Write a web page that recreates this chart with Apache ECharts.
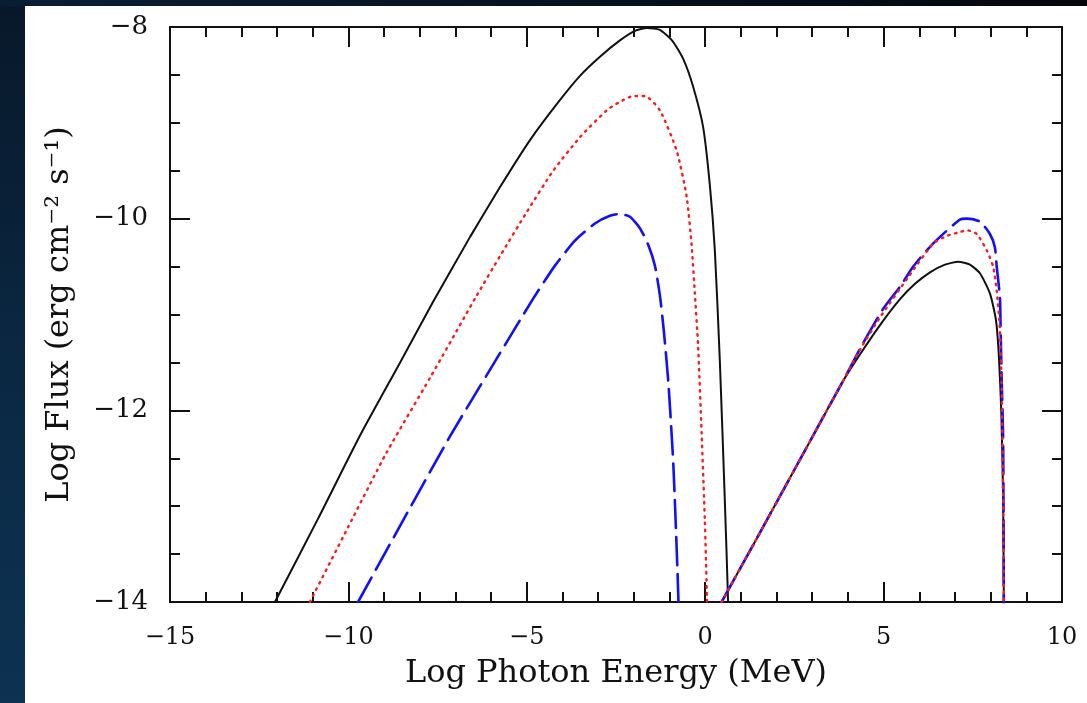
<!DOCTYPE html>
<html>
<head>
<meta charset="utf-8">
<script src="https://cdn.jsdelivr.net/npm/echarts@6/dist/echarts.min.js"></script>
<style>
  html, body { margin: 0; padding: 0; }
  body { width: 1087px; height: 703px; overflow: hidden; position: relative;
         background: linear-gradient(to bottom, #08182a 0%, #0b2a46 60%, #0d3252 100%); }
  #topstrip { position: absolute; left: 0; top: 0; width: 1087px; height: 6px;
              background: linear-gradient(to right, #0a1e33 0%, #06101c 60%, #03070c 100%); }
  #chart { position: absolute; left: 25px; top: 6px; width: 1062px; height: 697px; background: #ffffff; }
</style>
</head>
<body>
<div id="topstrip"></div>
<div id="chart"></div>
<script>
// ---- axis settings / tick labels ----
const xTicks = [-15, -10, -5, 0, 5, 10];
const yTicks = [-14, -12, -10, -8];
const xTitle = 'Log Photon Energy (MeV)';
const yTitle = 'Log Flux (erg cm\u207B\u00B2 s\u207B\u00B9)';

// ---- data: [log E (MeV), log flux] ----
// black solid curve, low-energy hump
const blackLow = [[-12.06,-14.0],[-10.85,-13.13],[-9.67,-12.26],[-8.55,-11.50],[-7.63,-10.87],
  [-6.59,-10.19],[-5.75,-9.67],[-4.91,-9.18],[-4.15,-8.80],[-3.51,-8.51],[-2.95,-8.31],[-2.39,-8.14],
  [-1.97,-8.04],[-1.63,-8.01],[-1.27,-8.03],[-0.93,-8.14],[-0.62,-8.33],[-0.34,-8.62],[-0.06,-9.04],
  [0.13,-9.65],[0.27,-10.33],[0.41,-11.48],[0.55,-12.94],[0.64,-13.98],[0.66,-14.5]];
// red dotted curve, low-energy hump
const redLow = [[-11.08,-14.0],[-10.01,-13.22],[-8.93,-12.44],[-7.71,-11.66],[-6.40,-10.80],
  [-5.75,-10.39],[-5.00,-9.93],[-4.26,-9.50],[-3.51,-9.15],[-2.76,-8.87],[-2.39,-8.78],[-2.01,-8.72],
  [-1.69,-8.72],[-1.27,-8.87],[-0.80,-9.29],[-0.52,-9.77],[-0.38,-10.28],[-0.29,-10.78],[-0.20,-11.32],
  [-0.10,-12.24],[-0.01,-13.15],[0.05,-13.98],[0.06,-14.5]];
// blue dashed curve, low-energy hump
const blueLow = [[-9.73,-14.0],[-8.44,-13.13],[-7.15,-12.27],[-5.81,-11.44],[-4.83,-10.84],
  [-4.21,-10.49],[-3.65,-10.23],[-3.09,-10.05],[-2.67,-9.97],[-2.39,-9.95],[-2.11,-9.98],[-1.83,-10.10],
  [-1.60,-10.27],[-1.41,-10.49],[-1.27,-10.80],[-1.16,-11.17],[-1.03,-11.72],[-0.89,-12.59],
  [-0.75,-13.98],[-0.74,-14.5]];
// common rising part of the high-energy hump (all three curves overlap)
const icRise = [[0.46,-14.0],[1.5,-13.3],[2.5,-12.62],[3.5,-11.94],[3.87,-11.69]];
// high-energy hump, after the curves separate
const blackHigh = [[4.35,-11.41],[4.90,-11.11],[5.46,-10.84],[5.88,-10.68],[6.30,-10.56],[6.72,-10.48],
  [7.09,-10.45],[7.42,-10.48],[7.70,-10.57],[7.98,-10.78],[8.15,-11.06],[8.23,-11.43],[8.30,-12.03],
  [8.35,-12.94],[8.37,-14.0],[8.38,-14.5]];
const redHigh = [[4.35,-11.36],[4.90,-11.03],[5.69,-10.61],[6.39,-10.26],[6.77,-10.18],[7.14,-10.14],
  [7.33,-10.12],[7.61,-10.16],[7.89,-10.33],[8.07,-10.50],[8.17,-10.75],[8.26,-11.16],[8.31,-11.79],
  [8.35,-12.9],[8.37,-14.0],[8.38,-14.5]];
const blueHigh = [[4.35,-11.35],[4.99,-10.94],[5.46,-10.71],[5.83,-10.50],[6.21,-10.33],[6.58,-10.19],
  [7.14,-10.01],[7.33,-10.0],[7.70,-10.03],[7.98,-10.16],[8.12,-10.30],[8.17,-10.50],[8.26,-10.82],
  [8.28,-11.16],[8.31,-11.69],[8.35,-12.28],[8.37,-14.0],[8.38,-14.5]];

const FONT = 'DejaVu Serif';
const minus = v => String(v).replace('-', '\u2212');

function axisCommon(showLabels, isX) {
  return {
    type: 'value',
    min: isX ? xTicks[0] : yTicks[0],
    max: isX ? xTicks[xTicks.length - 1] : yTicks[yTicks.length - 1],
    interval: isX ? 5 : 2,
    axisLine: { show: true, onZero: false, lineStyle: { color: '#111', width: 2 } },
    axisTick: { show: true, inside: true, length: 20, lineStyle: { color: '#111', width: 2 } },
    minorTick: { show: true, splitNumber: isX ? 5 : 4, length: 10, lineStyle: { color: '#111', width: 2 } },
    splitLine: { show: false },
    minorSplitLine: { show: false },
    axisLabel: {
      show: showLabels,
      formatter: minus,
      fontFamily: FONT,
      fontSize: isX ? 24 : 26,
      color: '#111',
      margin: isX ? 24 : 22
    }
  };
}

const chart = echarts.init(document.getElementById('chart'), null, { renderer: 'canvas' });

const xBottom = Object.assign(axisCommon(true, true), {
  position: 'bottom',
  name: xTitle, nameLocation: 'middle', nameGap: 56,
  nameTextStyle: { fontFamily: FONT, fontSize: 32, color: '#111' }
});
const xTop = Object.assign(axisCommon(false, true), { position: 'top' });
const yLeft = Object.assign(axisCommon(true, false), {
  position: 'left',
  name: yTitle, nameLocation: 'middle', nameGap: 94,
  nameTextStyle: { fontFamily: FONT, fontSize: 32, color: '#111' }
});
const yRight = Object.assign(axisCommon(false, false), { position: 'right' });

function lineSeries(data, color, type, width, z) {
  return {
    type: 'line', data: data, showSymbol: false, symbol: 'none',
    smooth: 0.2, clip: true, z: z, animation: false,
    lineStyle: { color: color, type: type, width: width, cap: 'round' }
  };
}

chart.setOption({
  animation: false,
  backgroundColor: '#ffffff',
  grid: { left: 145, right: 25, top: 21, bottom: 101, containLabel: false },
  xAxis: [xBottom, xTop],
  yAxis: [yLeft, yRight],
  series: [
    lineSeries(blackLow, '#111111', 'solid', 2, 2),
    lineSeries(icRise.concat(blackHigh), '#111111', 'solid', 2, 2),
    lineSeries(blueLow, '#1010ff', [28, 9], 2.6, 3),
    lineSeries(icRise.concat(blueHigh), '#1010ff', [28, 9], 2.6, 3),
    lineSeries(redLow, '#ff1a1a', [1.5, 5.5], 2.4, 4),
    lineSeries(icRise.concat(redHigh), '#ff1a1a', [1.5, 5.5], 2.4, 4)
  ]
});
</script>
</body>
</html>
